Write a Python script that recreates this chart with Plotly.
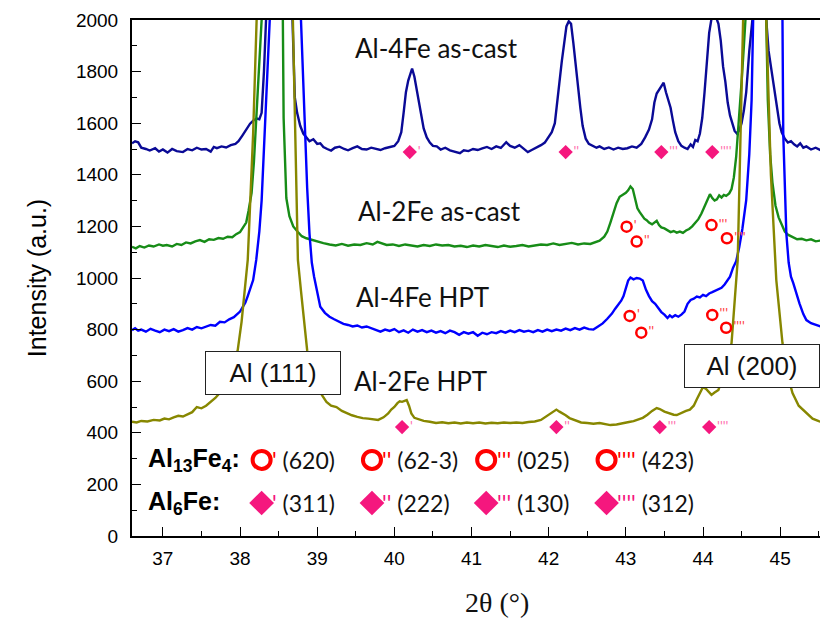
import plotly.graph_objects as go

# ---------------- data ----------------
two_theta_4fe_cast = [36.60, 36.64, 36.68, 36.72, 36.78, 36.83, 36.90, 36.95, 37.00, 37.06, 37.12, 37.18, 37.26, 37.32, 37.38, 37.44, 37.50, 37.56, 37.62, 37.66, 37.70, 37.76, 37.82, 37.88, 37.94, 37.98, 38.03, 38.08, 38.13, 38.18, 38.22, 38.25, 38.28, 38.31, 38.34, 38.50, 38.68, 38.71, 38.74, 38.78, 38.82, 38.86, 38.90, 38.95, 39.00, 39.04, 39.08, 39.13, 39.18, 39.23, 39.29, 39.35, 39.40, 39.46, 39.52, 39.58, 39.64, 39.70, 39.76, 39.82, 39.88, 39.94, 40.00, 40.05, 40.09, 40.12, 40.15, 40.18, 40.21, 40.23, 40.26, 40.29, 40.32, 40.35, 40.38, 40.42, 40.46, 40.50, 40.55, 40.60, 40.66, 40.72, 40.78, 40.85, 40.90, 40.96, 41.02, 41.08, 41.14, 41.20, 41.26, 41.32, 41.38, 41.45, 41.50, 41.56, 41.62, 41.68, 41.73, 41.78, 41.84, 41.90, 41.95, 42.00, 42.04, 42.08, 42.11, 42.14, 42.17, 42.20, 42.23, 42.26, 42.29, 42.32, 42.35, 42.38, 42.41, 42.44, 42.48, 42.52, 42.57, 42.62, 42.66, 42.72, 42.78, 42.84, 42.90, 42.96, 43.02, 43.08, 43.14, 43.20, 43.25, 43.30, 43.34, 43.37, 43.40, 43.43, 43.46, 43.49, 43.52, 43.55, 43.58, 43.61, 43.64, 43.68, 43.72, 43.76, 43.80, 43.84, 43.87, 43.90, 43.93, 43.96, 43.99, 44.02, 44.05, 44.08, 44.11, 44.14, 44.17, 44.20, 44.23, 44.26, 44.29, 44.32, 44.35, 44.38, 44.41, 44.44, 44.47, 44.50, 44.53, 44.56, 44.60, 44.64, 44.72, 44.82, 44.85, 44.88, 44.92, 44.96, 44.99, 45.02, 45.06, 45.10, 45.14, 45.18, 45.22, 45.26, 45.30, 45.34, 45.40, 45.46, 45.52, 45.56, 45.62]
int_4fe_cast = [1522, 1530, 1526, 1505, 1500, 1494, 1503, 1490, 1498, 1486, 1500, 1492, 1488, 1500, 1495, 1505, 1498, 1500, 1490, 1508, 1503, 1510, 1506, 1515, 1520, 1530, 1552, 1575, 1598, 1612, 1618, 1615, 1640, 1800, 2000, 3200, 2000, 1700, 1640, 1590, 1560, 1545, 1530, 1538, 1520, 1522, 1508, 1500, 1494, 1505, 1509, 1500, 1495, 1503, 1510, 1500, 1498, 1505, 1500, 1496, 1503, 1508, 1512, 1530, 1565, 1640, 1720, 1765, 1800, 1812, 1780, 1730, 1690, 1630, 1580, 1545, 1525, 1512, 1510, 1498, 1505, 1495, 1490, 1484, 1495, 1492, 1500, 1496, 1502, 1508, 1500, 1510, 1504, 1526, 1512, 1505, 1515, 1500, 1488, 1496, 1505, 1515, 1525, 1545, 1565, 1600, 1670, 1760, 1840, 1920, 1975, 1995, 1985, 1910, 1820, 1740, 1660, 1590, 1540, 1520, 1512, 1505, 1510, 1500, 1506, 1498, 1505, 1500, 1503, 1510, 1505, 1520, 1545, 1575, 1615, 1680, 1715, 1728, 1740, 1757, 1720, 1690, 1660, 1610, 1565, 1530, 1512, 1505, 1500, 1518, 1508, 1535, 1530, 1560, 1620, 1720, 1850, 1950, 2005, 2030, 2010, 1985, 1920, 1820, 1760, 1680, 1630, 1600, 1570, 1560, 1572, 1600, 1650, 1720, 1880, 2000, 3200, 2000, 1880, 1820, 1740, 1660, 1600, 1565, 1540, 1525, 1530, 1518, 1510, 1522, 1505, 1510, 1498, 1505, 1495, 1490, 1488]

two_theta_2fe_cast = [36.60, 36.65, 36.70, 36.76, 36.82, 36.88, 36.95, 37.00, 37.05, 37.12, 37.18, 37.24, 37.30, 37.36, 37.42, 37.48, 37.54, 37.60, 37.66, 37.72, 37.78, 37.84, 37.90, 37.95, 38.00, 38.04, 38.08, 38.11, 38.15, 38.18, 38.21, 38.25, 38.28, 38.42, 38.555, 38.565, 38.58, 38.60, 38.64, 38.69, 38.75, 38.80, 38.86, 38.92, 39.00, 39.08, 39.16, 39.24, 39.32, 39.40, 39.48, 39.56, 39.64, 39.72, 39.78, 39.84, 39.90, 39.98, 40.06, 40.14, 40.22, 40.30, 40.38, 40.46, 40.54, 40.62, 40.70, 40.78, 40.86, 40.94, 41.02, 41.10, 41.18, 41.26, 41.34, 41.42, 41.50, 41.58, 41.66, 41.74, 41.82, 41.90, 41.98, 42.06, 42.14, 42.22, 42.30, 42.38, 42.46, 42.54, 42.60, 42.66, 42.72, 42.76, 42.80, 42.84, 42.88, 42.92, 42.96, 43.00, 43.03, 43.06, 43.09, 43.12, 43.15, 43.18, 43.21, 43.24, 43.27, 43.30, 43.34, 43.37, 43.40, 43.43, 43.46, 43.50, 43.54, 43.58, 43.62, 43.66, 43.70, 43.74, 43.78, 43.82, 43.86, 43.90, 43.94, 43.98, 44.02, 44.06, 44.09, 44.12, 44.15, 44.18, 44.21, 44.24, 44.27, 44.30, 44.34, 44.37, 44.40, 44.43, 44.47, 44.50, 44.53, 44.55, 44.68, 44.82, 44.84, 44.87, 44.90, 44.94, 44.98, 45.02, 45.06, 45.10, 45.16, 45.22, 45.28, 45.34, 45.40, 45.46, 45.52, 45.58, 45.62]
int_2fe_cast = [1121, 1115, 1124, 1118, 1126, 1122, 1130, 1125, 1128, 1122, 1132, 1128, 1138, 1134, 1142, 1147, 1140, 1150, 1148, 1155, 1152, 1160, 1158, 1170, 1178, 1195, 1215, 1260, 1330, 1450, 1610, 1800, 2000, 3300, 2000, 1620, 1450, 1310, 1240, 1200, 1178, 1162, 1154, 1148, 1140, 1135, 1130, 1126, 1132, 1125, 1130, 1128, 1135, 1130, 1140, 1133, 1128, 1130, 1124, 1130, 1126, 1122, 1128, 1124, 1130, 1126, 1128, 1122, 1125, 1120, 1126, 1122, 1128, 1124, 1120, 1126, 1121, 1124, 1128, 1122, 1126, 1130, 1128, 1134, 1128, 1132, 1136, 1130, 1134, 1132, 1138, 1145, 1160, 1180, 1215, 1255, 1290, 1315, 1322, 1330, 1340, 1355, 1345, 1300, 1270, 1255, 1240, 1230, 1224, 1215, 1208, 1215, 1222, 1205, 1196, 1192, 1186, 1178, 1182, 1176, 1180, 1175, 1184, 1190, 1200, 1212, 1228, 1250, 1280, 1310, 1325, 1310, 1300, 1305, 1320, 1312, 1322, 1318, 1328, 1345, 1390, 1470, 1620, 1760, 1900, 2000, 3300, 2000, 1690, 1480, 1370, 1280, 1235, 1205, 1180, 1168, 1160, 1150, 1152, 1146, 1150, 1142, 1145, 1140, 1141]

two_theta_4fe_hpt = [36.60, 36.64, 36.68, 36.72, 36.78, 36.84, 36.90, 36.96, 37.02, 37.08, 37.14, 37.20, 37.26, 37.32, 37.38, 37.44, 37.50, 37.56, 37.62, 37.68, 37.74, 37.80, 37.86, 37.92, 37.96, 38.00, 38.04, 38.07, 38.10, 38.13, 38.17, 38.21, 38.25, 38.28, 38.32, 38.37, 38.58, 38.79, 38.82, 38.84, 38.87, 38.90, 38.93, 38.96, 39.00, 39.04, 39.10, 39.16, 39.22, 39.28, 39.34, 39.40, 39.46, 39.52, 39.58, 39.64, 39.70, 39.76, 39.82, 39.88, 39.94, 40.00, 40.06, 40.12, 40.18, 40.24, 40.30, 40.36, 40.42, 40.48, 40.54, 40.60, 40.66, 40.72, 40.78, 40.84, 40.90, 40.96, 41.02, 41.08, 41.14, 41.20, 41.26, 41.32, 41.38, 41.44, 41.50, 41.56, 41.62, 41.68, 41.74, 41.80, 41.86, 41.92, 41.98, 42.04, 42.10, 42.16, 42.22, 42.28, 42.34, 42.40, 42.46, 42.52, 42.58, 42.64, 42.70, 42.76, 42.82, 42.86, 42.90, 42.94, 42.97, 43.00, 43.03, 43.06, 43.10, 43.14, 43.18, 43.22, 43.26, 43.30, 43.34, 43.38, 43.42, 43.46, 43.50, 43.54, 43.57, 43.60, 43.64, 43.68, 43.72, 43.76, 43.80, 43.84, 43.88, 43.92, 43.96, 44.00, 44.04, 44.08, 44.12, 44.16, 44.20, 44.24, 44.28, 44.32, 44.35, 44.39, 44.43, 44.47, 44.51, 44.56, 44.60, 44.63, 44.65, 44.84, 45.03, 45.04, 45.06, 45.08, 45.11, 45.14, 45.17, 45.21, 45.25, 45.30, 45.34, 45.40, 45.46, 45.52, 45.58, 45.62]
int_4fe_hpt = [798, 805, 796, 800, 792, 803, 796, 790, 800, 794, 802, 792, 798, 806, 800, 810, 805, 812, 818, 815, 830, 828, 840, 848, 858, 870, 890, 905, 930, 960, 992, 1070, 1180, 1300, 1625, 2000, 3300, 2000, 1750, 1560, 1350, 1173, 1060, 1005, 950, 889, 865, 850, 840, 830, 822, 818, 812, 816, 808, 812, 806, 800, 792, 800, 795, 802, 790, 797, 788, 800, 792, 798, 790, 796, 788, 794, 786, 796, 790, 780, 790, 784, 790, 776, 788, 782, 790, 786, 794, 788, 796, 790, 798, 792, 796, 790, 798, 792, 800, 794, 800, 796, 804, 798, 806, 800, 808, 802, 800, 812, 824, 842, 862, 880, 895, 912, 930, 965, 990, 1002, 995, 1000, 998, 990, 955, 930, 910, 900, 885, 868, 858, 845, 855, 848, 856, 850, 858, 870, 900, 915, 920, 928, 925, 935, 930, 940, 945, 950, 958, 962, 975, 990, 1005, 1040, 1065, 1120, 1190, 1302, 1480, 1690, 2000, 3300, 2000, 1560, 1350, 1173, 1060, 1005, 980, 940, 902, 860, 837, 825, 818, 810, 806, 802]

two_theta_2fe_hpt = [36.60, 36.66, 36.72, 36.80, 36.88, 36.96, 37.02, 37.08, 37.14, 37.20, 37.26, 37.32, 37.38, 37.44, 37.50, 37.56, 37.62, 37.68, 37.74, 37.80, 37.86, 37.92, 37.97, 38.02, 38.06, 38.10, 38.14, 38.17, 38.215, 38.45, 38.685, 38.72, 38.75, 38.79, 38.83, 38.87, 38.92, 38.98, 39.06, 39.12, 39.18, 39.25, 39.32, 39.38, 39.45, 39.52, 39.59, 39.66, 39.73, 39.79, 39.86, 39.92, 39.96, 40.00, 40.04, 40.07, 40.10, 40.13, 40.16, 40.19, 40.22, 40.26, 40.32, 40.38, 40.46, 40.54, 40.62, 40.70, 40.78, 40.86, 40.94, 41.02, 41.10, 41.18, 41.26, 41.34, 41.42, 41.50, 41.58, 41.66, 41.74, 41.82, 41.90, 41.96, 42.02, 42.06, 42.10, 42.14, 42.18, 42.22, 42.27, 42.34, 42.42, 42.50, 42.58, 42.66, 42.74, 42.80, 42.88, 42.96, 43.04, 43.10, 43.16, 43.22, 43.28, 43.34, 43.40, 43.44, 43.50, 43.56, 43.62, 43.66, 43.72, 43.78, 43.83, 43.88, 43.92, 43.96, 44.00, 44.04, 44.08, 44.11, 44.15, 44.20, 44.25, 44.30, 44.37, 44.43, 44.45, 44.52, 44.67, 44.82, 44.88, 44.95, 45.03, 45.10, 45.16, 45.24, 45.34, 45.42, 45.50, 45.62]
int_2fe_hpt = [443, 440, 446, 444, 450, 448, 455, 452, 460, 466, 463, 472, 480, 500, 495, 505, 520, 535, 555, 580, 620, 670, 720, 830, 950, 1070, 1350, 1560, 2000, 3600, 2000, 1500, 1070, 950, 830, 720, 640, 590, 547, 520, 505, 500, 485, 476, 468, 462, 457, 455, 452, 450, 460, 475, 490, 500, 515, 522, 520, 525, 527, 505, 475, 458, 452, 446, 443, 438, 441, 437, 440, 436, 440, 437, 440, 436, 439, 437, 440, 438, 440, 438, 442, 444, 450, 462, 475, 485, 490, 482, 476, 468, 457, 448, 440, 438, 435, 438, 432, 430, 432, 438, 442, 445, 452, 458, 470, 485, 496, 492, 482, 475, 470, 469, 478, 485, 490, 505, 530, 555, 578, 570, 555, 547, 556, 566, 610, 660, 748, 992, 1070, 2000, 3600, 2000, 1400, 992, 748, 620, 554, 505, 476, 455, 445, 438]

# phase reflection positions (2theta, intensity where symbols sit)
al6fe_4fe_cast_x = [40.20, 42.22, 43.46, 44.12]
al6fe_4fe_cast_y = [1488, 1488, 1488, 1488]
al6fe_2fe_hpt_x = [40.10, 42.10, 43.44, 44.08]
al6fe_2fe_hpt_y = [422, 422, 422, 422]
al13fe4_2fe_cast_x = [43.01, 43.14, 44.11, 44.31]
al13fe4_2fe_cast_y = [1199, 1141, 1205, 1154]
al13fe4_4fe_hpt_x = [43.05, 43.20, 44.12, 44.30]
al13fe4_4fe_hpt_y = [853, 788, 857, 807]
primes = ["'", "''", "'''", "''''"]

al13fe4_planes = ["(620)", "(62-3)", "(025)", "(423)"]
al6fe_planes = ["(311)", "(222)", "(130)", "(312)"]
legend_x = [38.28, 39.71, 41.19, 42.75]
legend_y_al13fe4 = 295
legend_y_al6fe = 128

sample_names = ["Al-4Fe as-cast", "Al-2Fe as-cast", "Al-4Fe HPT", "Al-2Fe HPT"]
sample_label_x = [40.55, 40.59, 40.36, 40.34]
sample_label_y = [1891, 1260, 926, 601]

# ---------------- styles ----------------
NAVY = "#0a0a96"
BLUE = "#0000ff"
GREEN = "#178c17"
OLIVE = "#878700"
PINK = "#f5177e"
PINK_LIGHT = "#ff6fae"
RED = "#ff0000"
CAL = "Lato, 'Open Sans', sans-serif"
ARIAL = "'Liberation Sans', Arial, sans-serif"

fig = go.Figure()
for xs, ys, col in [
    (two_theta_4fe_cast, int_4fe_cast, NAVY),
    (two_theta_2fe_cast, int_2fe_cast, GREEN),
    (two_theta_4fe_hpt, int_4fe_hpt, BLUE),
    (two_theta_2fe_hpt, int_2fe_hpt, OLIVE),
]:
    fig.add_trace(go.Scatter(x=xs, y=ys, mode="lines",
                             line=dict(color=col, width=2.4), showlegend=False,
                             hoverinfo="skip"))

# diamonds on spectra
for xs, ys in [(al6fe_4fe_cast_x, al6fe_4fe_cast_y), (al6fe_2fe_hpt_x, al6fe_2fe_hpt_y)]:
    fig.add_trace(go.Scatter(x=xs, y=ys, mode="markers+text", text=primes,
                             textposition="middle right",
                             textfont=dict(color=PINK_LIGHT, size=14, family=CAL),
                             marker=dict(symbol="diamond", size=11, color=PINK),
                             showlegend=False, hoverinfo="skip"))
# circles on spectra
for xs, ys in [(al13fe4_2fe_cast_x, al13fe4_2fe_cast_y), (al13fe4_4fe_hpt_x, al13fe4_4fe_hpt_y)]:
    fig.add_trace(go.Scatter(x=xs, y=ys, mode="markers+text", text=primes,
                             textposition="middle right",
                             textfont=dict(color="#ff4040", size=14, family=CAL),
                             marker=dict(symbol="circle-open", size=10, color=RED,
                                         line=dict(width=2.5, color=RED)),
                             showlegend=False, hoverinfo="skip"))

# legend symbols
fig.add_trace(go.Scatter(x=legend_x, y=[legend_y_al13fe4] * 4, mode="markers",
                         marker=dict(symbol="circle-open", size=18, color=RED,
                                     line=dict(width=4, color=RED)),
                         showlegend=False, hoverinfo="skip"))
fig.add_trace(go.Scatter(x=legend_x, y=[legend_y_al6fe] * 4, mode="markers",
                         marker=dict(symbol="diamond", size=19, color=PINK),
                         showlegend=False, hoverinfo="skip"))

ann = []
for name, lx, ly in zip(sample_names, sample_label_x, sample_label_y):
    ann.append(dict(x=lx, y=ly, text=name, showarrow=False,
                    font=dict(family=CAL, size=26, color="#111")))

ann.append(dict(x=38.43, y=631, text="Al (111)", showarrow=False,
                font=dict(family=ARIAL, size=26, color="#111"),
                bgcolor="white", bordercolor="#222", borderwidth=1,
                width=132, height=40))
ann.append(dict(x=44.64, y=657, text="Al (200)", showarrow=False,
                font=dict(family=ARIAL, size=26, color="#111"),
                bgcolor="white", bordercolor="#222", borderwidth=1,
                width=132, height=40))

ann.append(dict(x=36.78, y=legend_y_al13fe4, xanchor="left",
                text="<b>Al<sub>13</sub>Fe<sub>4</sub>:</b>", showarrow=False,
                font=dict(family=ARIAL, size=25, color="#000")))
ann.append(dict(x=36.78, y=legend_y_al6fe, xanchor="left",
                text="<b>Al<sub>6</sub>Fe:</b>", showarrow=False,
                font=dict(family=ARIAL, size=25, color="#000")))
for lx, pr, pl in zip(legend_x, primes, al13fe4_planes):
    ann.append(dict(x=lx + 0.11, y=legend_y_al13fe4, xanchor="left", showarrow=False,
                    text=f"<span style='color:{RED}'>{pr}</span> {pl}",
                    font=dict(family=CAL, size=23, color="#111")))
for lx, pr, pl in zip(legend_x, primes, al6fe_planes):
    ann.append(dict(x=lx + 0.11, y=legend_y_al6fe, xanchor="left", showarrow=False,
                    text=f"<span style='color:{PINK}'>{pr}</span> {pl}",
                    font=dict(family=CAL, size=23, color="#111")))

ann.append(dict(x=0.524, y=-0.128, xref="paper", yref="paper", yanchor="middle",
                text="2θ (°)", showarrow=False,
                font=dict(family="'Liberation Serif', 'DejaVu Serif', serif", size=28, color="#111")))

# the page draws the figure 8px in from its top-left corner
fig.update_layout(
    width=820, height=614,
    margin=dict(l=124, r=0, t=12, b=86),
    paper_bgcolor="white", plot_bgcolor="white",
    annotations=ann,
    xaxis=dict(range=[36.6, 45.62], dtick=1, tick0=37, ticks="inside", ticklen=9,
               tickwidth=1.3, tickcolor="#000", showline=True, linecolor="#000",
               linewidth=2, mirror=True, showgrid=False, zeroline=False,
               automargin=False,
               tickfont=dict(family=ARIAL, size=19, color="#000"),
               minor=dict(ticks="inside", dtick=0.5, ticklen=5, tickcolor="#000"),
               ticklabelstandoff=4),
    yaxis=dict(range=[0, 2000], dtick=200, ticks="inside", ticklen=9,
               tickwidth=1.3, tickcolor="#000", showline=True, linecolor="#000",
               linewidth=2, showgrid=False, zeroline=False,
               automargin=False,
               tickfont=dict(family=ARIAL, size=19, color="#000"),
               minor=dict(ticks="inside", dtick=100, ticklen=5, tickcolor="#000"),
               title=dict(text="Intensity (a.u.)", font=dict(family=ARIAL, size=25, color="#000"),
                          standoff=22),
               ticklabelstandoff=8),
)

fig.write_html("out.html")
